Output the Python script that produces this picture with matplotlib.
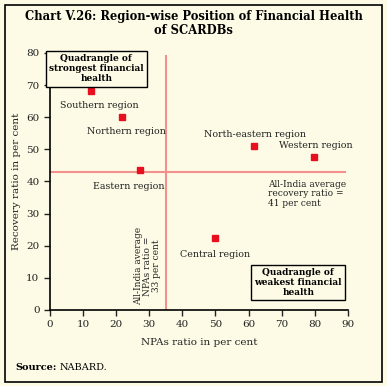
import matplotlib.pyplot as plt
from matplotlib.patches import Rectangle

# data
regions = ["Southern region", "Northern region", "Eastern region",
           "North-eastern region", "Western region", "Central region"]
npa_ratio = [12.5, 21.7, 27.2, 61.5, 79.8, 49.8]
recovery_ratio = [68.2, 60.1, 43.5, 51.0, 47.7, 22.3]
avg_npa = 35
avg_recovery = 43

x_ticks = list(range(0, 100, 10))
y_ticks = list(range(0, 90, 10))

bg = "#FDFBE6"
line_col = "#F2908C"
mark_col = "#E8101E"

plt.rcParams["font.family"] = ["DejaVu Serif"]

fig = plt.figure(figsize=(3.87, 3.86), dpi=100, facecolor=bg)
ax = fig.add_axes([0.129, 0.197, 0.770, 0.666], facecolor=bg)

# outer frame
fig.patches.append(Rectangle((0.012, 0.01), 0.976, 0.978, transform=fig.transFigure,
                             fill=False, edgecolor="black", linewidth=1.2))

# average lines
ax.plot([0, 89], [avg_recovery, avg_recovery], color=line_col, lw=1.5, zorder=1)
ax.plot([avg_npa, avg_npa], [0, 79], color=line_col, lw=1.5, zorder=1)

ax.plot(npa_ratio, recovery_ratio, "s", color=mark_col, markersize=5, zorder=3)

# point labels: (dx, dy)
offsets = {
    "Southern region": (2.5, -4.5),
    "Northern region": (1.5, -4.5),
    "Eastern region": (-3.5, -5),
    "North-eastern region": (0.5, 3.7),
    "Western region": (0.5, 3.5),
    "Central region": (0, -5),
}
for name, x, y in zip(regions, npa_ratio, recovery_ratio):
    dx, dy = offsets[name]
    ax.text(x + dx, y + dy, name, fontsize=6.8, ha="center", va="center", color="#222222")

ax.text(66, 40.5, "All-India average\nrecovery ratio =\n41 per cent", fontsize=6.5,
        ha="left", va="top", color="#222222", linespacing=1.05)
ax.text(29.5, 1.5, "All-India average\nNPAs ratio =\n33 per cent", fontsize=6.5,
        ha="center", va="bottom", rotation=90, color="#222222", linespacing=1.05)

ax.text(14, 75, "Quadrangle of\nstrongest financial\nhealth", fontsize=6.5,
        fontweight="bold", ha="center", va="center", linespacing=1.15,
        bbox=dict(boxstyle="square,pad=0.35", facecolor=bg, edgecolor="black", lw=1))
ax.text(75, 8.5, "Quadrangle of\nweakest financial\nhealth", fontsize=6.5,
        fontweight="bold", ha="center", va="center", linespacing=1.15,
        bbox=dict(boxstyle="square,pad=0.35", facecolor=bg, edgecolor="black", lw=1))

ax.set_xlim(0, 90)
ax.set_ylim(0, 80)
ax.set_xticks(x_ticks)
ax.set_yticks(y_ticks)
ax.tick_params(labelsize=7.5, length=4, width=1, colors="#222222")
for s in ["top", "right"]:
    ax.spines[s].set_visible(False)
for s in ["left", "bottom"]:
    ax.spines[s].set_linewidth(1.2)
ax.set_xlabel("NPAs ratio in per cent", fontsize=7.5, color="#222222", labelpad=6)
ax.set_ylabel("Recovery ratio in per cent", fontsize=7.5, color="#222222", labelpad=4)

fig.text(0.5, 0.94, "Chart V.26: Region-wise Position of Financial Health\nof SCARDBs",
         fontsize=8.3, fontweight="bold", ha="center", va="center", linespacing=1.1)
fig.text(0.04, 0.048, "Source:", fontsize=7, fontweight="bold", ha="left", va="center")
fig.text(0.155, 0.048, "NABARD.", fontsize=7, ha="left", va="center")

fig.savefig("out.png", dpi=100, facecolor=bg)
